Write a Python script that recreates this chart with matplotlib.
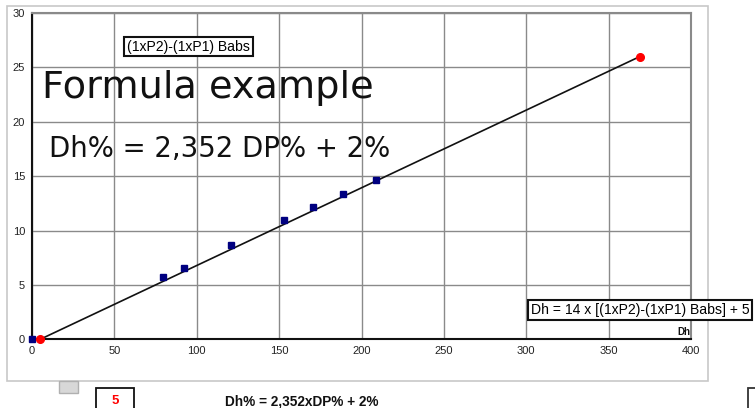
import matplotlib
matplotlib.use("Agg")
import matplotlib.pyplot as plt
from matplotlib.patches import Rectangle

# ---- data ----
dh_points = [0, 79.7, 92.5, 120.8, 153.0, 170.6, 188.8, 208.7]
babs_points = [0, 5.75, 6.6, 8.64, 10.97, 12.16, 13.4, 14.67]
dh_ends = [5, 369]
babs_ends = [0, 26]
x_ticks = [0, 50, 100, 150, 200, 250, 300, 350, 400]
y_ticks = [0, 5, 10, 15, 20, 25, 30]

W, H = 755, 408
fig = plt.figure(figsize=(W / 100, H / 100), dpi=100)
plt.rcParams['font.family'] = ['Liberation Sans', 'DejaVu Sans']

def fx(x):
    return x / W

def fy(y):
    return 1 - y / H

# outer chart frame
fig.patches.append(Rectangle((fx(7), fy(381)), fx(708) - fx(7), fy(6) - fy(381),
                             transform=fig.transFigure, fill=False,
                             edgecolor='#c8c8c8', lw=1.2, zorder=0))

ax = fig.add_axes([fx(32), fy(339.3), fx(691) - fx(32), fy(13) - fy(339.3)])
ax.set_xlim(0, 400)
ax.set_ylim(0, 30)
ax.set_xticks(x_ticks)
ax.set_yticks(y_ticks)
ax.grid(True, color='#8a8a8a', lw=1.0)
ax.set_axisbelow(True)
ax.tick_params(length=0, labelsize=8, colors='#222222', pad=5)
for s in ['top', 'right']:
    ax.spines[s].set_color('#8a8a8a')
    ax.spines[s].set_linewidth(1.5)
for s in ['left', 'bottom']:
    ax.spines[s].set_color('#111111')
    ax.spines[s].set_linewidth(1.5)

ax.plot(dh_ends, babs_ends, color='#111111', lw=1.2, zorder=3)
ax.plot(dh_points, babs_points, ls='none', marker='s', ms=4.6,
        color='#000080', zorder=4, clip_on=False)
ax.plot(dh_ends, babs_ends, ls='none', marker='o', ms=5.5,
        color='#ff0000', zorder=5, clip_on=False)

# texts inside chart
fig.text(fx(127), fy(46.5), '(1xP2)-(1xP1) Babs', fontsize=10.1, va='center', ha='left',
         bbox=dict(boxstyle='square,pad=0.2', fc='white', ec='#111111', lw=1.5))
fig.text(fx(42), fy(98), 'Formula example', fontsize=27.5, family='DejaVu Sans',
         va='baseline', ha='left', color='#111111')
fig.text(fx(49), fy(157), 'Dh% = 2,352 DP% + 2%', fontsize=19.8, family='DejaVu Sans',
         va='baseline', ha='left', color='#111111')
fig.text(fx(531), fy(310), 'Dh = 14 x [(1xP2)-(1xP1) Babs] + 5', fontsize=10.1,
         va='center', ha='left',
         bbox=dict(boxstyle='square,pad=0.2', fc='white', ec='#111111', lw=1.5))
fig.text(fx(690), fy(332), 'Dh', fontsize=7, fontweight='bold', va='center', ha='right',
         color='#111111')

# bottom decorations
fig.patches.append(Rectangle((fx(59), fy(393)), fx(78) - fx(59), fy(381) - fy(393),
                             transform=fig.transFigure, fc='#d8d8d8',
                             ec='#b0b0b0', lw=1))
fig.patches.append(Rectangle((fx(96), fy(410)), fx(134) - fx(96), fy(388) - fy(410),
                             transform=fig.transFigure, fc='white',
                             ec='#111111', lw=1.3))
fig.text(fx(115), fy(401), '5', fontsize=9.5, fontweight='bold', color='#ff0000',
         ha='center', va='center')
fig.text(fx(225), fy(401), 'Dh% = 2,352xDP% + 2%', fontsize=9.8, fontweight='bold',
         ha='left', va='center', color='#111111')
fig.patches.append(Rectangle((fx(748), fy(410)), fx(760) - fx(748), fy(388) - fy(410),
                             transform=fig.transFigure, fc='white',
                             ec='#333333', lw=1.3))

fig.savefig('out.png', dpi=100)
